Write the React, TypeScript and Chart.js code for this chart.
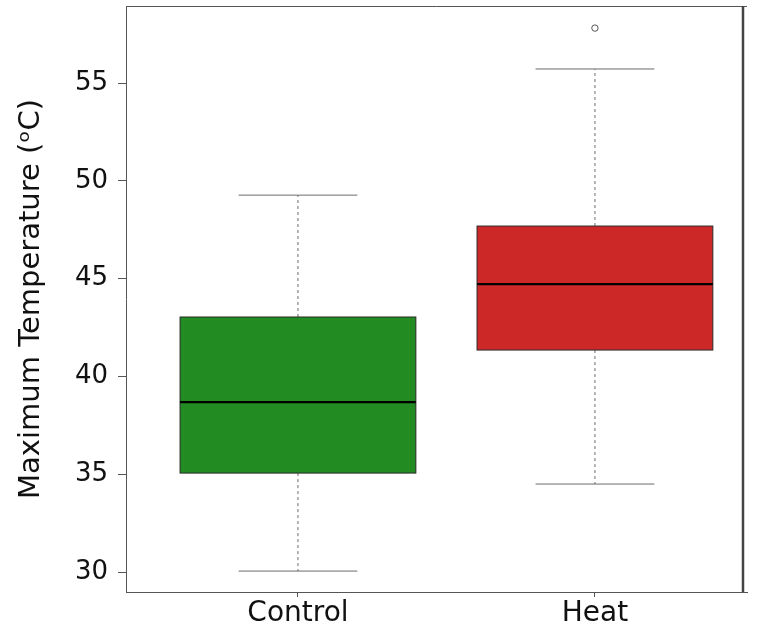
import React, { useEffect, useRef } from "react";
import { Chart, registerables } from "chart.js";
Chart.register(...registerables);

const categories = ["Control", "Heat"];
const whiskerLow = [30.05, 34.5];
const q1 = [35.06, 41.35];
const median = [38.69, 44.72];
const q3 = [43.04, 47.69];
const whiskerHigh = [49.27, 55.72];
const outliers = [{ x: 1, y: 57.81 }];
const yTicks = [30, 35, 40, 45, 50, 55];
const boxColors = ["#228B22", "#CD2828"];

const FONT = "'DejaVu Sans', sans-serif";

const boxPlugin = {
  id: "boxes",
  beforeDatasetsDraw(chart: any) {
    const { ctx, scales } = chart;
    const xs = scales.x;
    const ys = scales.y;
    const boxHalf = 0.397;
    const capHalf = 0.2;
    ctx.save();
    categories.forEach((_, i) => {
      const xc = xs.getPixelForValue(i);
      const xl = xs.getPixelForValue(i - boxHalf);
      const xr = xs.getPixelForValue(i + boxHalf);
      const cl = xs.getPixelForValue(i - capHalf);
      const cr = xs.getPixelForValue(i + capHalf);
      const yLo = ys.getPixelForValue(whiskerLow[i]);
      const yQ1 = ys.getPixelForValue(q1[i]);
      const yMed = ys.getPixelForValue(median[i]);
      const yQ3 = ys.getPixelForValue(q3[i]);
      const yHi = ys.getPixelForValue(whiskerHigh[i]);
      ctx.strokeStyle = "#6b6b6b";
      ctx.lineWidth = 1;
      ctx.setLineDash([3, 3]);
      ctx.beginPath();
      ctx.moveTo(xc, yQ1);
      ctx.lineTo(xc, yLo);
      ctx.moveTo(xc, yQ3);
      ctx.lineTo(xc, yHi);
      ctx.stroke();
      ctx.setLineDash([]);
      ctx.beginPath();
      ctx.moveTo(cl, yLo);
      ctx.lineTo(cr, yLo);
      ctx.moveTo(cl, yHi);
      ctx.lineTo(cr, yHi);
      ctx.stroke();
      ctx.fillStyle = boxColors[i];
      ctx.fillRect(xl, yQ3, xr - xl, yQ1 - yQ3);
      ctx.strokeStyle = "#2a2a2a";
      ctx.lineWidth = 1;
      ctx.strokeRect(xl, yQ3, xr - xl, yQ1 - yQ3);
      ctx.strokeStyle = "#000";
      ctx.lineWidth = 2.2;
      ctx.beginPath();
      ctx.moveTo(xl, yMed);
      ctx.lineTo(xr, yMed);
      ctx.stroke();
    });
    ctx.restore();
  },
  afterDraw(chart: any) {
    const { ctx, chartArea } = chart;
    ctx.save();
    ctx.strokeStyle = "#555";
    ctx.lineWidth = 1;
    ctx.beginPath();
    ctx.moveTo(chartArea.left, chartArea.top + 0.5);
    ctx.lineTo(chartArea.right, chartArea.top + 0.5);
    ctx.stroke();
    ctx.strokeStyle = "#444";
    ctx.lineWidth = 2.5;
    ctx.beginPath();
    ctx.moveTo(chartArea.right - 4, chartArea.top);
    ctx.lineTo(chartArea.right - 4, chartArea.bottom);
    ctx.stroke();
    ctx.restore();
  },
};

export default function App() {
  const ref = useRef<HTMLCanvasElement>(null);
  useEffect(() => {
    if (!ref.current) return;
    const chart = new Chart(ref.current, {
      type: "scatter",
      data: {
        datasets: [
          {
            data: outliers,
            pointStyle: "circle",
            pointRadius: 3.2,
            pointBorderColor: "#555",
            pointBackgroundColor: "rgba(0,0,0,0)",
            pointBorderWidth: 1,
          },
        ],
      },
      options: {
        animation: false,
        responsive: false,
        maintainAspectRatio: false,
        layout: { padding: { top: 6, right: 10, left: 0, bottom: 0 } },
        plugins: { legend: { display: false }, tooltip: { enabled: false } },
        scales: {
          x: {
            type: "linear",
            min: -0.579,
            max: 1.512,
            afterBuildTicks: (s: any) => {
              s.ticks = categories.map((_, i) => ({ value: i }));
            },
            afterFit: (s: any) => {
              s.height = 42;
              s.paddingLeft = 0;
              s.paddingRight = 0;
            },
            ticks: {
              autoSkip: false,
              maxRotation: 0,
              padding: 0,
              color: "#111",
              font: { family: FONT, size: 28 },
              callback: (v: any) => categories[Math.round(Number(v))] ?? "",
            },
            grid: { drawOnChartArea: false, drawTicks: true, tickLength: 5, color: "#555" },
            border: { display: true, color: "#555" },
          },
          y: {
            min: 28.98,
            max: 58.94,
            afterBuildTicks: (s: any) => {
              s.ticks = yTicks.map((v) => ({ value: v }));
            },
            afterFit: (s: any) => {
              s.width = 126;
              s.paddingTop = 0;
              s.paddingBottom = 0;
            },
            ticks: {
              padding: 10,
              color: "#111",
              font: { family: FONT, size: 26 },
            },
            grid: { drawOnChartArea: false, drawTicks: true, tickLength: 8, color: "#555" },
            border: { display: true, color: "#555" },
            title: {
              display: true,
              text: "Maximum Temperature (ᵒC)",
              color: "#111",
              font: { family: FONT, size: 29 },
              padding: { top: 14, bottom: 0 },
            },
          },
        },
      },
      plugins: [boxPlugin],
    });
    return () => chart.destroy();
  }, []);
  return (
    <div style={{ position: "absolute", left: 0, top: 0, width: 757, height: 634 }}>
      <canvas ref={ref} width={757} height={634} style={{ width: 757, height: 634 }} />
    </div>
  );
}
